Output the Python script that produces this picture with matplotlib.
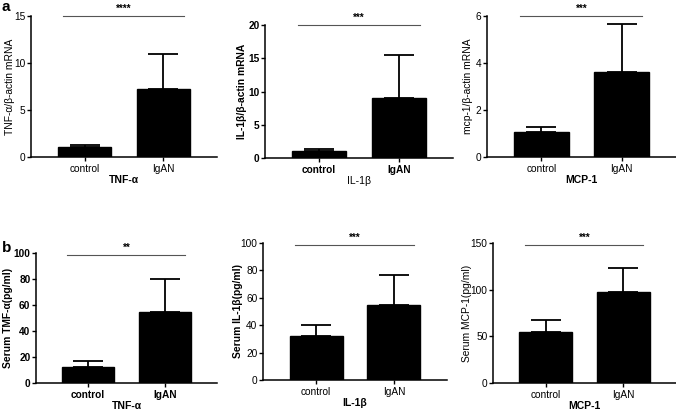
import matplotlib
matplotlib.use("Agg")
import matplotlib.pyplot as plt

plt.rcParams['font.family'] = ['Liberation Sans', 'DejaVu Sans']

groups = ["control", "IgAN"]

# panel a (mRNA)
a_titles = ["TNF-α", "IL-1β", "MCP-1"]
a_ylabels = ["TNF-α/β-actin mRNA", "IL-1β/β-actin mRNA", "mcp-1/β-actin mRNA"]
a_means = [[1.1, 7.2], [1.1, 9.0], [1.05, 3.6]]
a_err = [[0.2, 3.8], [0.25, 6.5], [0.22, 2.05]]
a_ylim = [15, 20, 6]
a_ticks = [[0, 5, 10, 15], [0, 5, 10, 15, 20], [0, 2, 4, 6]]
a_sig = ["****", "***", "***"]

# panel b (serum)
b_titles = ["TNF-α", "IL-1β", "MCP-1"]
b_ylabels = ["Serum TMF-α(pg/ml)", "Serum IL-1β(pg/ml)", "Serum MCP-1(pg/ml)"]
b_means = [[12, 55], [32, 54.5], [55, 97]]
b_err = [[5, 25], [8, 22.5], [13, 26]]
b_ylim = [100, 100, 150]
b_ticks = [[0, 20, 40, 60, 80, 100], [0, 20, 40, 60, 80, 100], [0, 50, 100, 150]]
b_sig = ["**", "***", "***"]

W, H = 676, 412
fig = plt.figure(figsize=(W / 100, H / 100), dpi=100)

# axes boxes in pixels: left, right, top, bottom, ylabel right edge x
a_boxes = [(31, 217, 16, 157, 15), (265, 453, 25, 158, 247), (487, 676, 16, 157, 473)]
b_boxes = [(36, 217, 253, 383, 13), (263, 447, 243, 380, 243), (493, 676, 243, 383, 472)]

# bold flags: (ticklabels_x, ticklabels_y, ylabel, xlabel)
a_bold = [(False, False, False, True), (True, True, True, False), (False, False, False, True)]
b_bold = [(True, True, True, True), (False, False, True, True), (False, False, False, True)]


def fw(flag):
    return 'bold' if flag else 'normal'


def draw(box, means, err, ylim, ticks, ylabel, title, sig, bold, siglevel):
    l, r, t, b, lx = box
    ax = fig.add_axes([l / W, 1 - b / H, (r - l) / W, (b - t) / H])
    x = [0, 1]
    ax.bar(x, means, width=0.68, color='black', edgecolor='black', zorder=2)
    ax.errorbar(x, means, yerr=[[0, 0], err], fmt='none', ecolor='black',
                elinewidth=1.3, capsize=10.5, capthick=1.3, zorder=1)
    ax.set_xlim(-0.68, 1.68)
    ax.set_ylim(0, ylim)
    ax.set_yticks(ticks)
    ax.set_xticks(x)
    fx, fy, fyl, fxl = bold
    ax.set_xticklabels(groups, fontsize=7.3, fontweight=fw(fx))
    ax.set_yticklabels([str(v) for v in ticks], fontsize=7.3, fontweight=fw(fy))
    ax.set_ylabel(ylabel, fontsize=7.4, fontweight=fw(fyl))
    ax.yaxis.set_label_coords((lx - l) / (r - l), 0.5)
    ax.set_xlabel(title, fontsize=7.5, fontweight=fw(fxl), labelpad=1)
    for s in ['top', 'right']:
        ax.spines[s].set_visible(False)
    for s in ['left', 'bottom']:
        ax.spines[s].set_linewidth(1.1)
    ax.tick_params(axis='y', length=3, width=1, pad=1)
    ax.tick_params(axis='x', length=3, width=1, pad=2)
    y0 = ylim * siglevel
    ax.plot([-0.27, 1.26], [y0, y0], color='#555555', lw=0.8, clip_on=False)
    ax.text(0.5, y0 + ylim * 0.015, sig, ha='center', va='bottom', fontsize=7,
            fontweight='bold')
    return ax


for i in range(3):
    draw(a_boxes[i], a_means[i], a_err[i], a_ylim[i], a_ticks[i], a_ylabels[i],
         a_titles[i], a_sig[i], a_bold[i], 1.0)
    draw(b_boxes[i], b_means[i], b_err[i], b_ylim[i], b_ticks[i], b_ylabels[i],
         b_titles[i], b_sig[i], b_bold[i], 0.985)

fig.text(2 / W, 1 - 0 / H, "a", fontsize=11, fontweight='bold', va='top', ha='left')
fig.text(2 / W, 1 - 241 / H, "b", fontsize=11, fontweight='bold', va='top', ha='left')

fig.savefig("out.png", dpi=100)
